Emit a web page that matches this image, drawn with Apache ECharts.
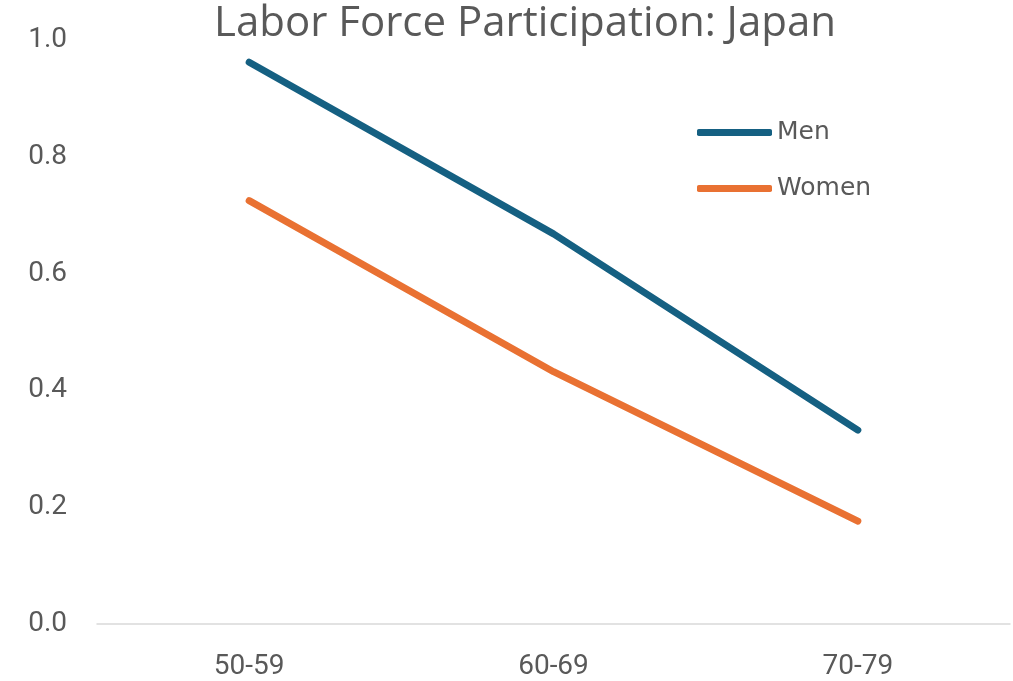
<!DOCTYPE html>
<html>
<head>
<meta charset="utf-8">
<script src="https://cdn.jsdelivr.net/npm/echarts@6/dist/echarts.min.js"></script>
<style>
  html, body { margin: 0; padding: 0; background: #ffffff; }
  #chart { width: 1013px; height: 681px; }
</style>
</head>
<body>
<div id="chart"></div>
<script>
// Age groups along the x axis
const ageGroups = ['50-59', '60-69', '70-79'];
// Participation rates by sex
const menRates = [0.962, 0.668, 0.332];
const womenRates = [0.725, 0.432, 0.176];
// Y axis tick range
const yMin = 0.0;
const yMax = 1.0;
const yStep = 0.2;

const chart = echarts.init(document.getElementById('chart'), null, { renderer: 'canvas' });

chart.setOption({
  backgroundColor: '#ffffff',
  animation: false,
  title: {
    text: 'Labor Force Participation: Japan',
    left: 520,
    textAlign: 'center',
    top: -2,
    textStyle: {
      fontFamily: 'Open Sans',
      fontSize: 42,
      fontWeight: 'normal',
      color: '#595959'
    }
  },
  legend: {
    orient: 'vertical',
    left: 692,
    top: 115,
    itemWidth: 75,
    itemHeight: 7,
    itemGap: 31,
    icon: 'roundRect',
    textStyle: {
      fontFamily: 'DejaVu Sans',
      fontSize: 25,
      color: '#595959'
    },
    data: ['Men', 'Women']
  },
  grid: {
    left: 97,
    right: 3,
    top: 40,
    bottom: 56,
    containLabel: false
  },
  xAxis: {
    type: 'category',
    data: ageGroups,
    boundaryGap: true,
    axisLine: { lineStyle: { color: '#d9d9d9', width: 1.5 } },
    axisTick: { show: false },
    axisLabel: {
      margin: 29,
      fontFamily: 'Roboto',
      fontSize: 28,
      color: '#595959'
    },
    splitLine: { show: false }
  },
  yAxis: {
    type: 'value',
    min: yMin,
    max: yMax,
    interval: yStep,
    axisLine: { show: false },
    axisTick: { show: false },
    splitLine: { show: false },
    axisLabel: {
      margin: 30,
      fontFamily: 'Roboto',
      fontSize: 28,
      color: '#595959',
      formatter: v => v.toFixed(1)
    }
  },
  series: [
    {
      name: 'Men',
      type: 'line',
      data: menRates,
      symbol: 'none',
      color: '#156082',
      lineStyle: { width: 7, color: '#156082', cap: 'round', join: 'round' }
    },
    {
      name: 'Women',
      type: 'line',
      data: womenRates,
      symbol: 'none',
      color: '#e97132',
      lineStyle: { width: 7, color: '#e97132', cap: 'round', join: 'round' }
    }
  ]
});
</script>
</body>
</html>
